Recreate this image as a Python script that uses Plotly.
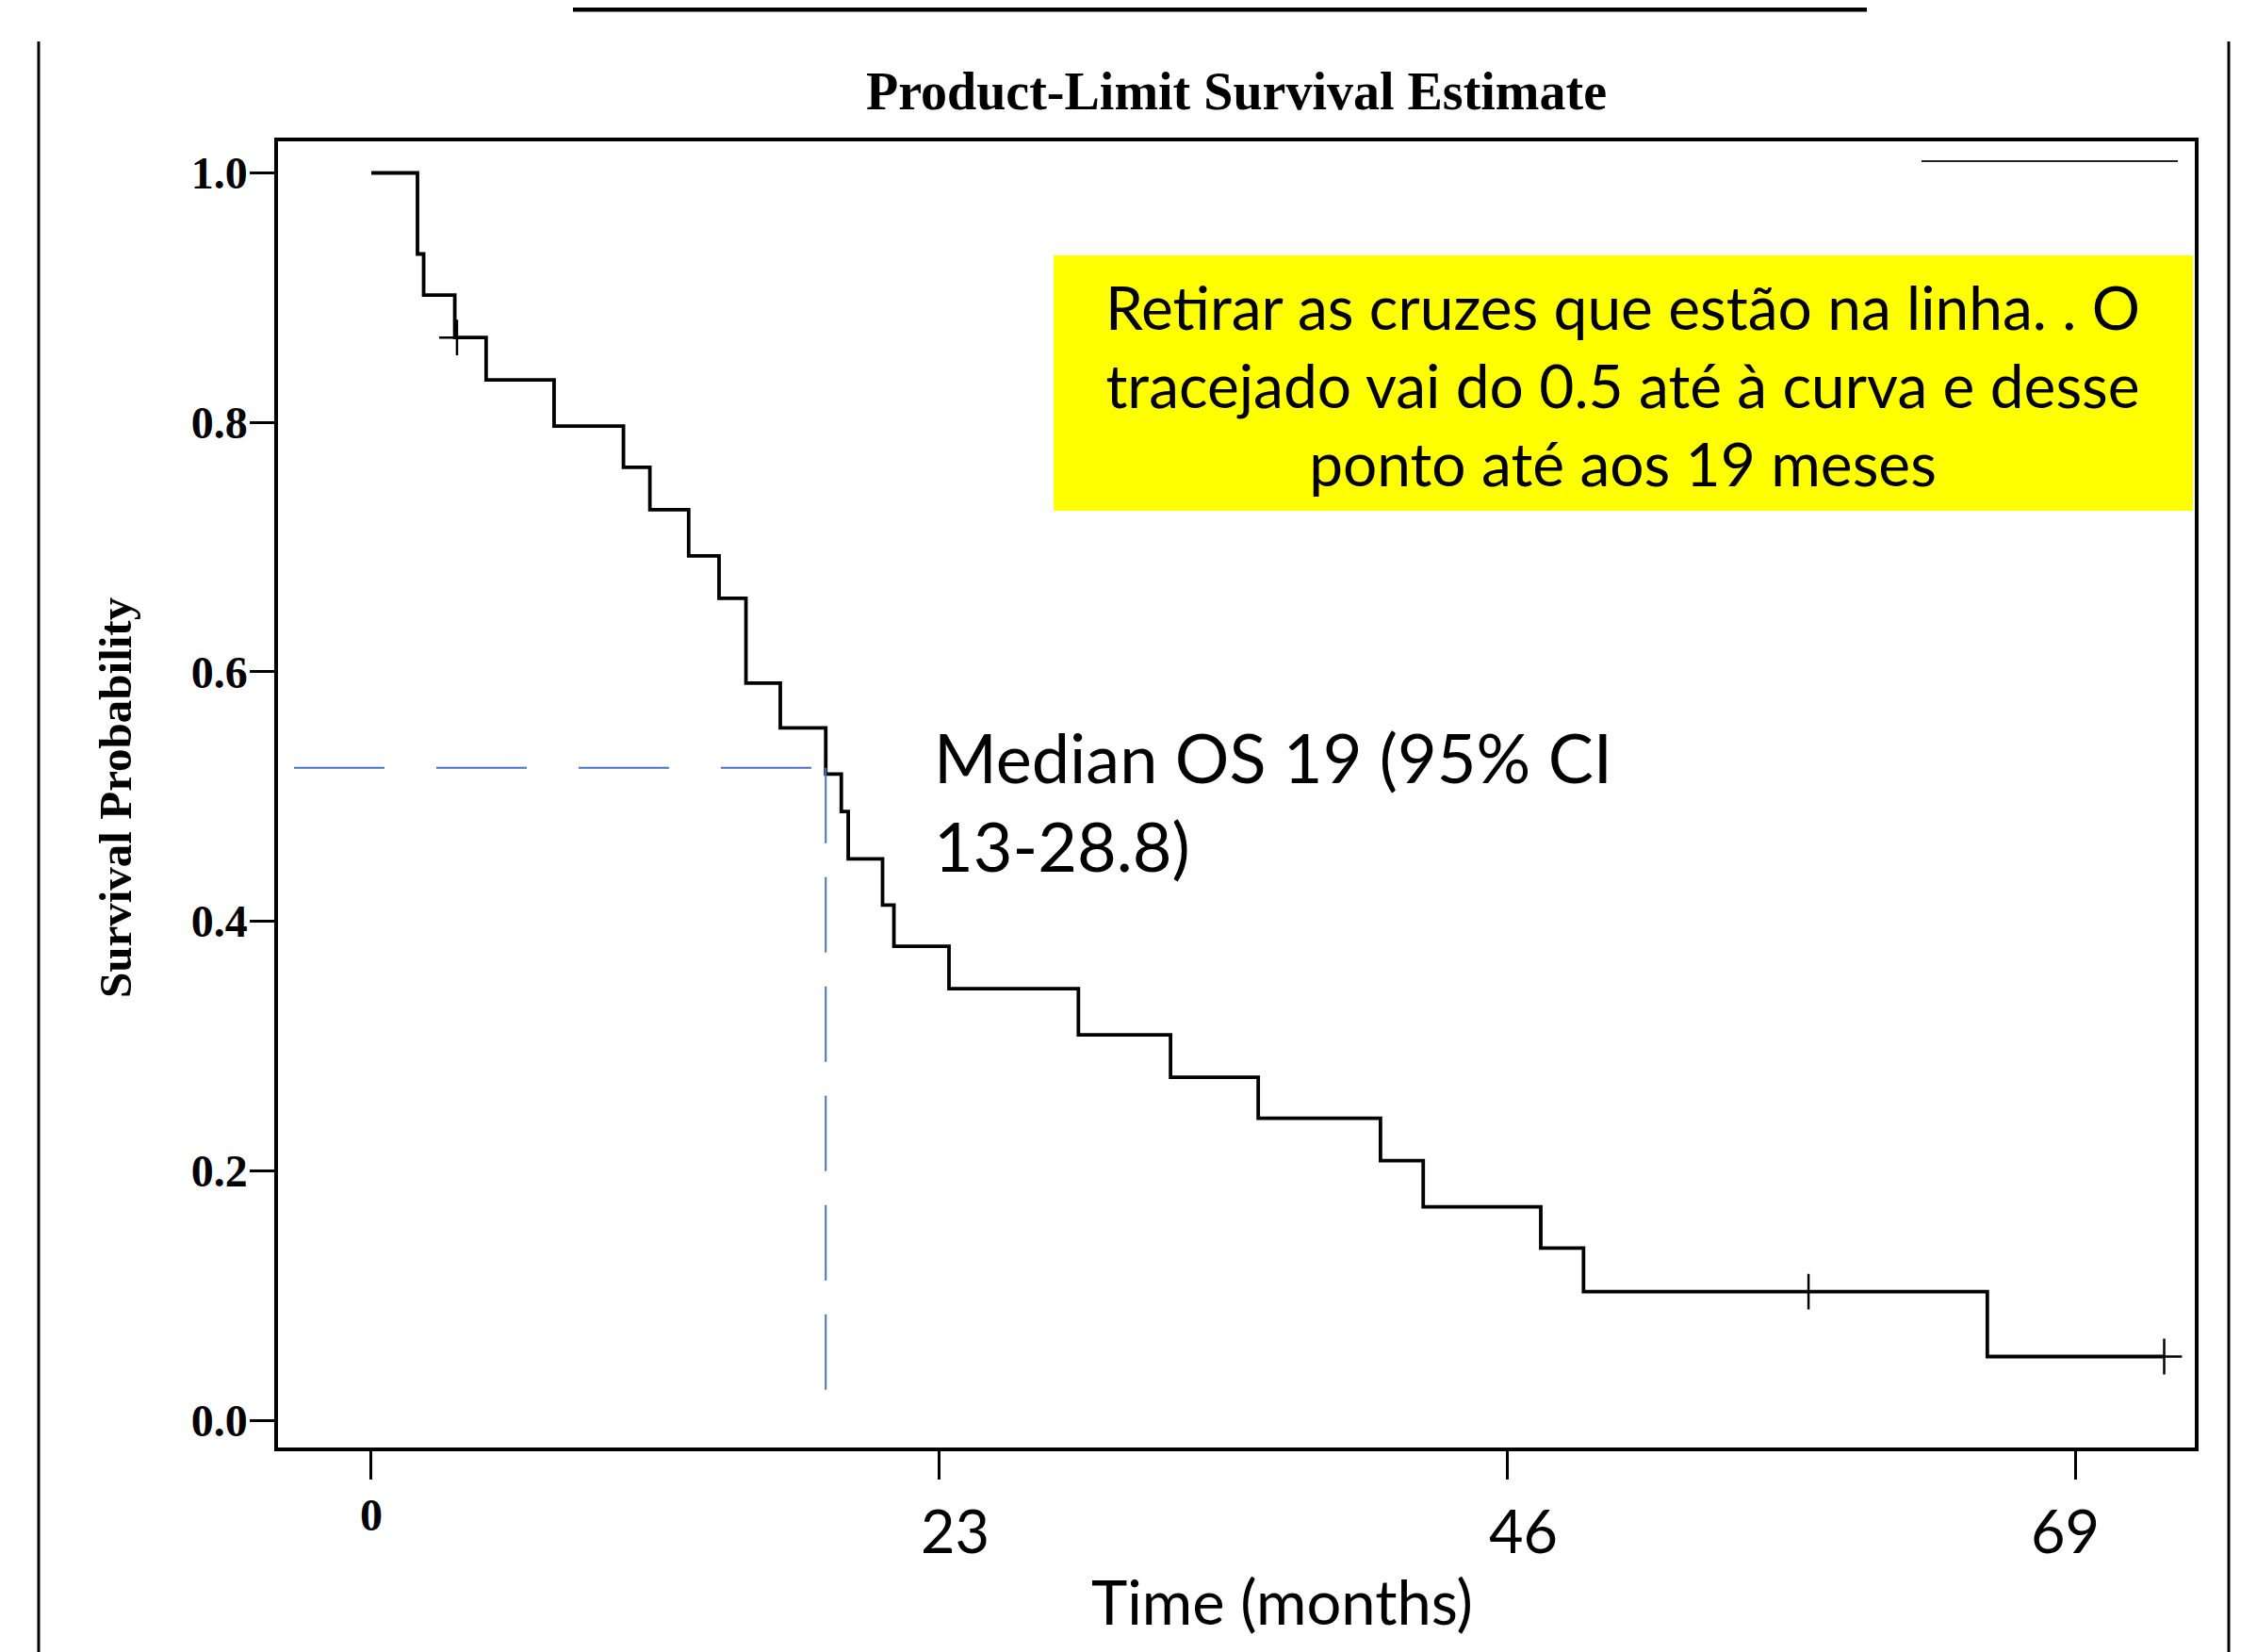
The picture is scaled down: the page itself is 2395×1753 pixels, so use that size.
import plotly.graph_objects as go

# ---------------- data ----------------
step_times = [0, 1.87, 2.12, 3.38, 4.65, 7.40, 10.21, 11.28, 12.85, 14.08, 15.17,
              16.56, 18.40, 19.03, 19.31, 20.70, 21.16, 23.39, 28.63, 32.36, 35.91,
              40.86, 42.59, 47.35, 49.08, 65.43]
surv = [1.0, 0.935, 0.902, 0.868, 0.834, 0.797, 0.764, 0.730, 0.693, 0.659, 0.591,
        0.555, 0.518, 0.488, 0.450, 0.413, 0.380, 0.346, 0.309, 0.275, 0.242,
        0.208, 0.171, 0.138, 0.103, 0.051]
last_time = 72.59
censor_times = [3.47, 58.19, 72.59]
censor_surv = [0.868, 0.103, 0.051]

median_time = 18.40
median_level = 0.523
ref_start = -3.13
ref_bottom = 0.005

x_ticks = [0, 23, 46, 69]
x_tick_labels = ["0", "23", "46", "69"]
y_ticks = [0.0, 0.2, 0.4, 0.6, 0.8, 1.0]
y_tick_labels = ["0.0", "0.2", "0.4", "0.6", "0.8", "1.0"]

title_text = "Product-Limit Survival Estimate"
y_title = "Survival Probability"
x_title = "Time (months)"
median_text = "Median OS 19 (95% CI<br>13-28.8)"
note_text = ("Retirar as cruzes que estão na linha. . O<br>"
             "tracejado vai do 0.5 até à curva e desse<br>"
             "ponto até aos 19 meses")

# ---------------- layout helpers ----------------
PAGE_W, PAGE_H = 2395, 1753
OFF = 8                      # default body margin of the html page
W, H = PAGE_W - OFF, PAGE_H - OFF
# plot-area edges in page pixels
L, R, T, B = 295, 2329, 150, 1536


def px(x):
    return (x - L) / (R - L)


def py(y):
    return (B - y) / (B - T)


SERIF = "Liberation Serif, Times New Roman, serif"
SANS = "Lato, Open Sans, sans-serif"
BLUE = "#4472C4"

fig = go.Figure()

# survival curve
fig.add_trace(go.Scatter(
    x=step_times + [last_time], y=surv + [surv[-1]],
    mode="lines", line=dict(color="black", width=3.8, shape="hv"),
    showlegend=False, hoverinfo="skip"))

# censor marks
fig.add_trace(go.Scatter(
    x=censor_times, y=censor_surv, mode="markers",
    marker=dict(symbol="cross-thin", size=27, line=dict(color="black", width=2.5)),
    showlegend=False, hoverinfo="skip"))

# median reference lines
fig.add_trace(go.Scatter(
    x=[ref_start, median_time], y=[median_level, median_level], mode="lines",
    line=dict(color=BLUE, width=2, dash="96px,55px"),
    showlegend=False, hoverinfo="skip"))
fig.add_trace(go.Scatter(
    x=[median_time, median_time], y=[median_level, ref_bottom], mode="lines",
    line=dict(color=BLUE, width=2, dash="80px,36px"),
    showlegend=False, hoverinfo="skip"))

shapes = [
    # yellow note box
    dict(type="rect", xref="paper", yref="paper", x0=px(1118), x1=px(2327),
         y0=py(542), y1=py(271), fillcolor="#FFFF00", line=dict(width=0), layer="above"),
    # short line top right inside frame
    dict(type="line", xref="paper", yref="paper", x0=px(2039), x1=px(2311),
         y0=py(171), y1=py(171), line=dict(color="#222222", width=2)),
    # page decorations
    dict(type="line", xref="paper", yref="paper", x0=px(608), x1=px(1981),
         y0=py(10), y1=py(10), line=dict(color="black", width=5)),
    dict(type="line", xref="paper", yref="paper", x0=px(41), x1=px(41),
         y0=py(44), y1=py(1760), line=dict(color="black", width=3)),
    dict(type="line", xref="paper", yref="paper", x0=px(2365), x1=px(2365),
         y0=py(44), y1=py(1760), line=dict(color="black", width=3)),
]

annotations = [
    dict(text=f"<b>{title_text}</b>", xref="paper", yref="paper", x=px(1312), y=py(97),
         xanchor="center", yanchor="middle", showarrow=False,
         font=dict(family=SERIF, size=56, color="black")),
    dict(text=f"<b>{y_title}</b>", xref="paper", yref="paper", x=px(122), y=py(846),
         xanchor="center", yanchor="middle", showarrow=False, textangle=-90,
         font=dict(family=SERIF, size=49, color="black")),
    dict(text=x_title, xref="paper", yref="paper", x=px(1360), y=py(1699),
         xanchor="center", yanchor="middle", showarrow=False,
         font=dict(family=SANS, size=65, color="black")),
    dict(text=median_text, xref="paper", yref="paper", x=px(989), y=py(850),
         xanchor="left", yanchor="middle", align="left", showarrow=False,
         font=dict(family=SANS, size=72, color="black")),
    dict(text=note_text, xref="paper", yref="paper", x=px(1722), y=py(408),
         xanchor="center", yanchor="middle", align="center", showarrow=False,
         font=dict(family=SANS, size=64, color="black")),
]

# x tick labels: first in the SAS serif style, the rest overlaid sans text
x_label_shift = [0, 17, 17, -11]
x_label_y = [1607, 1623, 1623, 1623]
for i, (v, lab) in enumerate(zip(x_ticks, x_tick_labels)):
    if i == 0:
        f = dict(family=SERIF, size=48, color="black")
        t = f"<b>{lab}</b>"
    else:
        f = dict(family=SANS, size=63, color="black")
        t = lab
    annotations.append(dict(text=t, xref="x", yref="paper", x=v, y=py(x_label_y[i]),
                            xshift=x_label_shift[i], xanchor="center", yanchor="middle",
                            showarrow=False, font=f))

fig.update_layout(
    width=W, height=H,
    margin=dict(l=L - OFF, r=W - (R - OFF), t=T - OFF, b=H - (B - OFF), pad=0),
    paper_bgcolor="white", plot_bgcolor="white",
    shapes=shapes, annotations=annotations, showlegend=False,
    xaxis=dict(range=[-3.777, 73.83], showline=True, mirror=True, linecolor="black",
               linewidth=3.5, ticks="outside", ticklen=30, tickwidth=3, tickcolor="black",
               tickvals=x_ticks, showticklabels=False, showgrid=False, zeroline=False),
    yaxis=dict(range=[-0.0219, 1.0253], showline=True, mirror=True, linecolor="black",
               linewidth=3.5, ticks="outside", ticklen=26, tickwidth=3, tickcolor="black",
               tickvals=y_ticks, ticktext=[f"<b>{t}</b>" for t in y_tick_labels],
               tickfont=dict(family=SERIF, size=48, color="black"),
               ticklabelstandoff=-7,
               showgrid=False, zeroline=False),
)

fig.write_html("out.html")
